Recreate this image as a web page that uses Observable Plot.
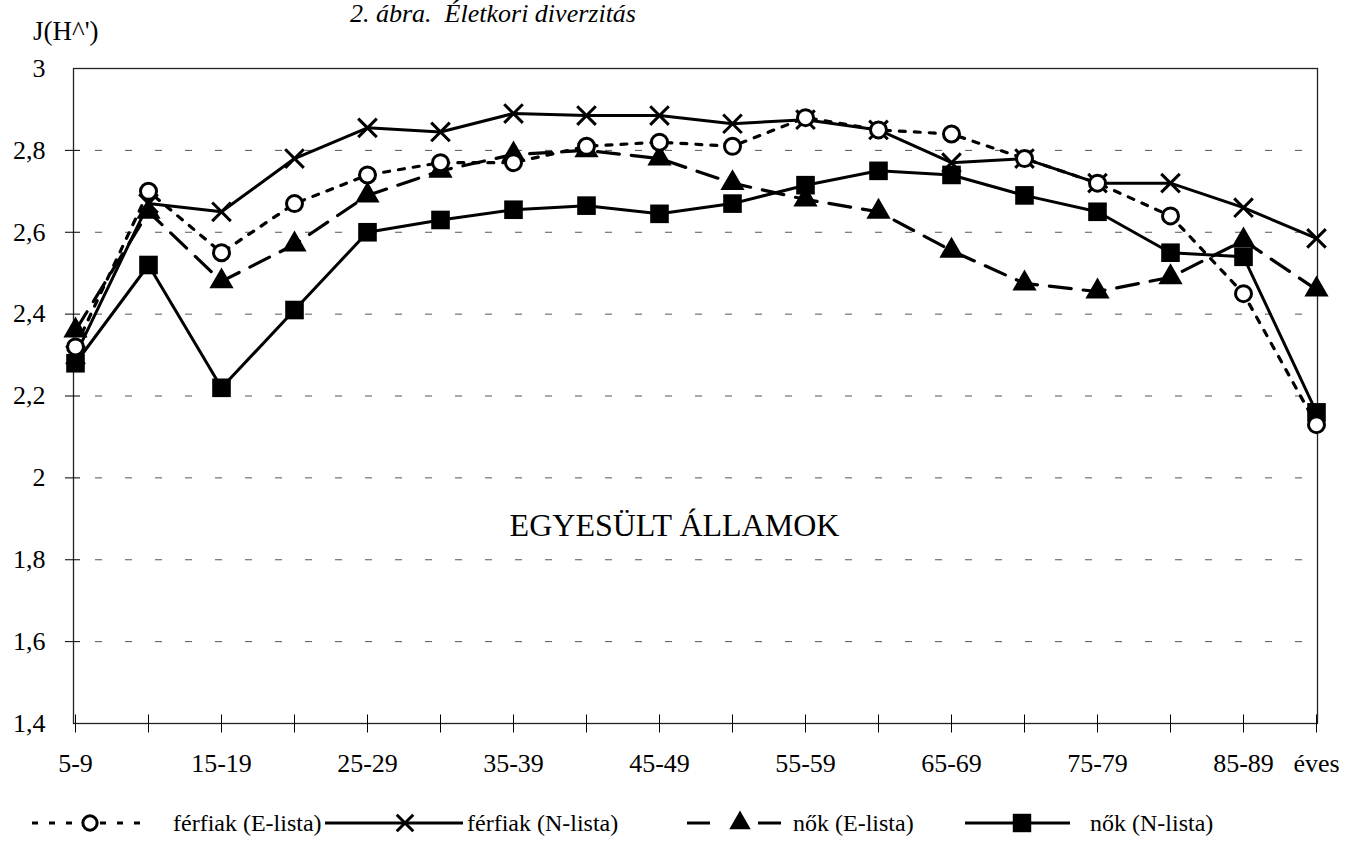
<!DOCTYPE html>
<html><head><meta charset="utf-8">
<script src="https://cdn.jsdelivr.net/npm/d3@7"></script>
<script src="https://cdn.jsdelivr.net/npm/@observablehq/plot@0.6"></script>
<style>
body{margin:0;background:#fff;font-family:"Liberation Serif","DejaVu Serif","Times New Roman",Times,serif;}
#wrap{position:relative;width:1356px;height:863px;overflow:hidden;background:#fff;}
#chart{position:absolute;left:0;top:0;}
#chart text{font-family:"Liberation Serif","DejaVu Serif","Times New Roman",Times,serif;}
#title{position:absolute;left:350px;top:0px;font-style:italic;font-size:26px;line-height:28px;white-space:pre;color:#000;}
#ytitle{position:absolute;left:33px;top:16px;font-size:27px;line-height:30px;color:#000;}
#legend{position:absolute;left:0;top:795px;}
#legend text{font-family:"Liberation Serif","DejaVu Serif","Times New Roman",Times,serif;}
</style></head><body>
<div id="wrap">
  <div id="chart"></div>
  <div id="title">2. ábra.  Életkori diverzitás</div>
  <div id="ytitle">J(H^')</div>
  <svg id="legend" width="1356" height="60"></svg>
</div>
<script>
const ageGroups = ["5-9","10-14","15-19","20-24","25-29","30-34","35-39","40-44","45-49","50-54","55-59","60-64","65-69","70-74","75-79","80-84","85-89","éves"];
const xTickLabels = ["5-9","15-19","25-29","35-39","45-49","55-59","65-69","75-79","85-89","éves"];
const yTicks = [1.4,1.6,1.8,2,2.2,2.4,2.6,2.8,3];
const gridValues = [1.6,1.8,2,2.2,2.4,2.6,2.8];

const ferfiakE = [2.32,2.70,2.55,2.67,2.74,2.77,2.77,2.81,2.82,2.81,2.88,2.85,2.84,2.78,2.72,2.64,2.45,2.13];
const ferfiakN = [2.30,2.67,2.65,2.78,2.855,2.845,2.89,2.885,2.885,2.865,2.875,2.85,2.77,2.78,2.72,2.72,2.66,2.585];
const nokE     = [2.36,2.65,2.48,2.57,2.69,2.75,2.79,2.80,2.78,2.72,2.68,2.65,2.555,2.475,2.455,2.49,2.58,2.46];
const nokN     = [2.28,2.52,2.22,2.41,2.60,2.63,2.655,2.665,2.645,2.67,2.715,2.75,2.74,2.69,2.65,2.55,2.54,2.16];

const seriesNames = ["férfiak (E-lista)","férfiak (N-lista)","nők (E-lista)","nők (N-lista)"];
const seriesValues = [ferfiakE, ferfiakN, nokE, nokN];
const rows = seriesNames.map((name, i) => ageGroups.map((g, j) => ({series: name, age: g, value: seriesValues[i][j]})));

const vTick = {draw(ctx, size){ const r = Math.sqrt(size/Math.PI); ctx.moveTo(0,-r); ctx.lineTo(0,r); }};
const hTick = {draw(ctx, size){ const r = Math.sqrt(size/Math.PI); ctx.moveTo(-r,0); ctx.lineTo(r,0); }};

const serif = "'Liberation Serif', 'DejaVu Serif', 'Times New Roman', Times, serif";

const chart = Plot.plot({
  width: 1356, height: 790,
  marginTop: 68, marginBottom: 67, marginLeft: 73, marginRight: 39,
  style: {fontFamily: serif, fontSize: "26px", color: "#000", background: "transparent"},
  x: {type: "point", domain: ageGroups, padding: 0, label: null},
  y: {domain: [1.4, 3], label: null},
  marks: [
    Plot.ruleY(gridValues, {stroke: "#555", strokeWidth: 1, strokeDasharray: "7,23", strokeDashoffset: -22}),
    Plot.frame({stroke: "#222", strokeWidth: 1.3}),
    Plot.axisY({ticks: yTicks, tickSize: 0, tickPadding: 28, tickFormat: d => String(d).replace(".", ","), label: null, fontFamily: serif}),
    Plot.axisX({ticks: xTickLabels, tickSize: 0, tickPadding: 30, label: null, fontFamily: serif}),
    Plot.dot(ageGroups, {x: d => d, y: () => 1.4, symbol: vTick, r: 9, stroke: "#000", strokeWidth: 1, fill: "none"}),
    Plot.dot(yTicks.slice(1, -1), {x: () => ageGroups[0], y: d => d, symbol: hTick, r: 7.5, dx: -3, stroke: "#000", strokeWidth: 1, fill: "none"}),
    Plot.text(["EGYESÜLT ÁLLAMOK"], {text: d => d, frameAnchor: "middle", dx: -21, dy: 130, fontSize: 32, fill: "#000", fontFamily: serif}),
    // lines
    Plot.line(rows[3], {x: "age", y: "value", stroke: "#000", strokeWidth: 3}),
    Plot.line(rows[2], {x: "age", y: "value", stroke: "#000", strokeWidth: 3.2, strokeDasharray: "22,12"}),
    Plot.line(rows[1], {x: "age", y: "value", stroke: "#000", strokeWidth: 3}),
    Plot.line(rows[0], {x: "age", y: "value", stroke: "#000", strokeWidth: 3.2, strokeDasharray: "6,9"}),
    // markers
    Plot.dot(rows[3], {x: "age", y: "value", symbol: "square", r: 10.5, fill: "#000"}),
    Plot.dot(rows[2], {x: "age", y: "value", symbol: "triangle", r: 9, fill: "#000"}),
    Plot.dot(rows[1], {x: "age", y: "value", symbol: "times", r: 8.5, stroke: "#000", strokeWidth: 3, fill: "none"}),
    Plot.dot(rows[0], {x: "age", y: "value", symbol: "circle", r: 8, stroke: "#000", strokeWidth: 3, fill: "#fff"})
  ]
});
document.getElementById("chart").appendChild(chart);

// legend
const lg = d3.select("#legend");
const cy = 28;
const legendItems = [
  {name: seriesNames[0], x1: 32, x2: 150, dash: "6,11", mx: 90, sym: d3.symbolCircle, open: true, tx: 173},
  {name: seriesNames[1], x1: 325, x2: 463, dash: null, mx: 405, sym: d3.symbolTimes, open: true, tx: 467},
  {name: seriesNames[2], x1: 687, x2: 781, dash: "23,48", mx: 740, sym: d3.symbolTriangle, open: false, tx: 793},
  {name: seriesNames[3], x1: 965, x2: 1070, dash: null, mx: 1022, sym: d3.symbolSquare, open: false, tx: 1090}
];
legendItems.forEach(it => {
  lg.append("line").attr("x1", it.x1).attr("x2", it.x2).attr("y1", cy).attr("y2", cy)
    .attr("stroke", "#000").attr("stroke-width", 3).attr("stroke-dasharray", it.dash);
  const size = it.sym === d3.symbolSquare ? 340 : it.sym === d3.symbolTriangle ? 200 : it.sym === d3.symbolTimes ? 180 : 160;
  lg.append("path").attr("transform", `translate(${it.mx},${cy})`)
    .attr("d", d3.symbol(it.sym, size)())
    .attr("fill", it.sym === d3.symbolCircle ? "#fff" : it.open ? "none" : "#000")
    .attr("stroke", it.open ? "#000" : "none").attr("stroke-width", 3);
  lg.append("text").attr("x", it.tx).attr("y", cy).attr("dy", "0.35em")
    .attr("font-size", 24).attr("fill", "#000")
    .text(it.name);
});
</script>
</body></html>
